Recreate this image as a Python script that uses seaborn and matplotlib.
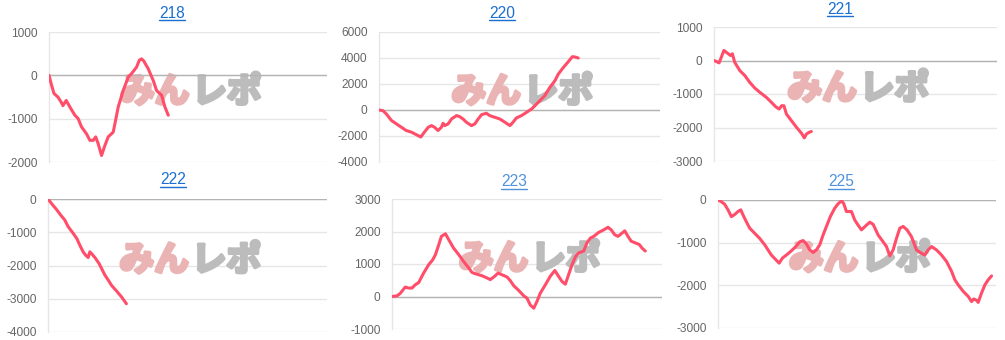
import matplotlib
matplotlib.use("Agg")
import matplotlib.pyplot as plt
import matplotlib.patheffects as pe
import seaborn as sns
import pandas as pd
from matplotlib.lines import Line2D

# ---------------- data (x = games played, y = coin difference) ----------------
titles = ["218", "220", "221", "222", "223", "225"]

x_218 = [0, 80, 180, 320, 440, 500, 620, 750, 930, 1050, 1170, 1350, 1470, 1590, 1680, 1770,
         1890, 2010, 2130, 2310, 2370, 2490, 2670, 2850, 2970, 3150, 3250, 3330, 3410, 3570,
         3750, 3870, 4050, 4170, 4290]
y_218 = [0, -200, -420, -500, -620, -700, -580, -730, -920, -1000, -1190, -1350, -1500, -1500,
         -1420, -1580, -1850, -1620, -1420, -1310, -1120, -730, -350, -40, 40, 190, 350, 380,
         330, 150, -120, -350, -460, -730, -920]

x_220 = [0, 140, 260, 440, 620, 800, 970, 1150, 1330, 1490, 1570, 1750, 1870, 1980, 2100, 2220,
         2280, 2340, 2460, 2580, 2760, 2870, 2990, 3110, 3290, 3410, 3530, 3650, 3820, 3940,
         4120, 4300, 4480, 4660, 4770, 4890, 5070, 5250, 5430, 5550, 5720, 5900, 6080, 6260,
         6380, 6560, 6730, 6880, 6970, 7090]
y_220 = [0, -50, -300, -800, -1070, -1330, -1580, -1700, -1900, -2080, -1830, -1330, -1200,
         -1330, -1580, -1330, -1020, -1200, -1070, -690, -430, -510, -690, -940, -1200, -1070,
         -690, -360, -250, -430, -560, -690, -940, -1200, -940, -610, -430, -180, 80, 330, 710,
         1100, 1740, 2250, 2760, 3270, 3700, 4100, 4080, 4000]

x_221 = [0, 80, 180, 260, 350, 460, 580, 650, 730, 910, 1090, 1260, 1440, 1620, 1850, 2030,
         2180, 2300, 2390, 2470, 2560, 2740, 2920, 3090, 3190, 3270, 3370, 3440]
y_221 = [0, -30, -70, 100, 300, 230, 150, 200, -50, -300, -450, -650, -820, -950, -1100, -1250,
         -1380, -1450, -1350, -1350, -1600, -1800, -2000, -2170, -2310, -2190, -2140, -2120]

x_222 = [0, 120, 300, 480, 600, 720, 900, 1040, 1140, 1260, 1350, 1440, 1500, 1560, 1680, 1830,
         1920, 2040, 2160, 2280, 2460, 2640, 2810]
y_222 = [0, -130, -310, -510, -630, -830, -1030, -1200, -1390, -1590, -1690, -1760, -1590,
         -1640, -1760, -1940, -2090, -2290, -2440, -2600, -2770, -2950, -3150]

x_223 = [0, 190, 310, 490, 620, 740, 860, 990, 1170, 1360, 1510, 1610, 1730, 1830, 1980, 2100,
         2280, 2470, 2650, 2840, 2960, 3090, 3330, 3520, 3640, 3770, 3930, 4070, 4260, 4380,
         4510, 4690, 4880, 5000, 5120, 5250, 5370, 5490, 5680, 5860, 6030, 6170, 6300, 6420,
         6540, 6670, 6790, 6910, 7100, 7220, 7350, 7470, 7650, 7840, 8000, 8120, 8250, 8370,
         8490, 8620, 8740, 8860, 9010, 9160, 9260, 9380]
y_223 = [0, 20, 100, 290, 260, 260, 360, 430, 720, 980, 1130, 1290, 1590, 1850, 1930, 1750,
         1490, 1290, 1080, 880, 740, 700, 640, 570, 520, 600, 720, 670, 600, 490, 330, 190, 20,
         -50, -260, -360, -150, 100, 360, 620, 800, 620, 460, 380, 670, 980, 1220, 1340, 1400,
         1650, 1800, 1850, 1970, 2050, 2130, 2050, 1900, 1850, 1930, 2020, 1850, 1700, 1650,
         1600, 1490, 1400]

x_225 = [0, 120, 240, 360, 480, 600, 720, 820, 900, 1020, 1140, 1320, 1500, 1680, 1800, 1920,
         2080, 2200, 2320, 2460, 2640, 2800, 2940, 3060, 3180, 3300, 3420, 3540, 3660, 3780,
         3900, 4040, 4200, 4320, 4440, 4520, 4620, 4800, 4920, 5040, 5160, 5340, 5460, 5580,
         5760, 5940, 6060, 6180, 6300, 6420, 6540, 6660, 6800, 6960, 7140, 7320, 7440, 7560,
         7680, 7860, 8040, 8220, 8400, 8520, 8640, 8820, 9000, 9120, 9200, 9300, 9360, 9480,
         9600, 9720, 9840]
y_225 = [0, -40, -100, -230, -390, -340, -270, -230, -350, -510, -660, -780, -900, -1050, -1170,
         -1290, -1400, -1480, -1360, -1290, -1190, -1090, -980, -950, -1030, -1170, -1230, -1170,
         -1050, -820, -620, -390, -190, -90, -20, -80, -270, -270, -470, -590, -700, -590, -520,
         -570, -820, -980, -1090, -1310, -1170, -900, -660, -620, -700, -860, -1170, -1250,
         -1290, -1170, -1090, -1170, -1290, -1440, -1670, -1870, -1990, -2140, -2260, -2380,
         -2320, -2350, -2400, -2180, -1990, -1870, -1780]

yticks_218 = [-2000, -1000, 0, 1000]
yticks_220 = [-4000, -2000, 0, 2000, 4000, 6000]
yticks_221 = [-3000, -2000, -1000, 0, 1000]
yticks_222 = [-4000, -3000, -2000, -1000, 0]
yticks_223 = [-1000, 0, 1000, 2000, 3000]
yticks_225 = [-3000, -2000, -1000, 0]

x_max = 10000
watermark_left = "みん"
watermark_right = "レポ"

series = [(x_218, y_218, yticks_218), (x_220, y_220, yticks_220), (x_221, y_221, yticks_221),
          (x_222, y_222, yticks_222), (x_223, y_223, yticks_223), (x_225, y_225, yticks_225)]

# ---------------- layout / style ----------------
W, H = 1005, 340
sns.set_theme(style="white")
plt.rcParams["font.family"] = ["Liberation Sans", "Noto Sans CJK JP", "DejaVu Sans"]

fig = plt.figure(figsize=(W / 100, H / 100), dpi=100)

# axes boxes in pixels: left, right, top, bottom
boxes = [(49, 327, 32, 162), (379, 660, 32, 162), (714, 997, 27, 161),
         (48, 327, 199, 332), (392, 662, 199, 329), (718, 996, 200, 328)]
title_pos = [(172, 13), (502, 13), (840, 9), (173, 180), (514, 182), (841, 182)]
title_colors = ["#1a6fd0", "#1a6fd0", "#1a6fd0", "#1a6fd0", "#4f93dc", "#4f93dc"]

grid_c = "#e6e6e6"
line_c = "#ff4d6a"
wm_pink = "#ebb4b4"
wm_gray = "#bcbcbc"

axes = []
title_texts = []
for i, ((xs, ys, yt), (l, r, t, b)) in enumerate(zip(series, boxes)):
    ax = fig.add_axes([l / W, 1 - b / H, (r - l) / W, (b - t) / H])
    df = pd.DataFrame({"game": xs, "diff": ys})
    # watermark
    ax.text(0.505, 0.54, watermark_left, transform=ax.transAxes, ha="right", va="center",
            fontsize=25, fontweight="bold", color=wm_pink, family=["Noto Sans CJK JP"],
            zorder=1, path_effects=[pe.withStroke(linewidth=2.5, foreground=wm_pink)])
    ax.text(0.515, 0.54, watermark_right, transform=ax.transAxes, ha="left", va="center",
            fontsize=25, fontweight="bold", color=wm_gray, family=["Noto Sans CJK JP"],
            zorder=1, path_effects=[pe.withStroke(linewidth=2.5, foreground=wm_gray)])
    ax.axhline(0, color="#b4b4b4", lw=1.0, zorder=2)
    sns.lineplot(data=df, x="game", y="diff", ax=ax, color=line_c, lw=2.2, zorder=3)
    ax.set_xlim(0, x_max)
    ax.set_ylim(yt[0], yt[-1])
    ax.set_yticks(yt)
    ax.set_yticklabels([str(v) for v in yt])
    ax.set_xticks([])
    ax.set_xlabel("")
    ax.set_ylabel("")
    ax.yaxis.grid(True, color=grid_c, lw=1.0)
    ax.set_axisbelow(True)
    for s in ["top", "right", "bottom"]:
        ax.spines[s].set_visible(False)
    ax.spines["left"].set_color(grid_c)
    ax.spines["left"].set_linewidth(1.0)
    ax.tick_params(axis="y", length=7.2, width=1.0, color=grid_c, pad=1,
                   labelsize=8.6, labelcolor="#666666")
    tx, ty = title_pos[i]
    tt = fig.text(tx / W, 1 - ty / H, titles[i], ha="center", va="center",
                  fontsize=11.2, color=title_colors[i])
    title_texts.append(tt)
    axes.append(ax)

# underline titles
fig.canvas.draw()
renderer = fig.canvas.get_renderer()
for tt in title_texts:
    bb = tt.get_window_extent(renderer)
    yline = bb.y0 + 1
    fig.add_artist(Line2D([bb.x0 / W, bb.x1 / W], [yline / H, yline / H],
                          transform=fig.transFigure, color=tt.get_color(), lw=1.0))

fig.savefig("out.png", dpi=100)
